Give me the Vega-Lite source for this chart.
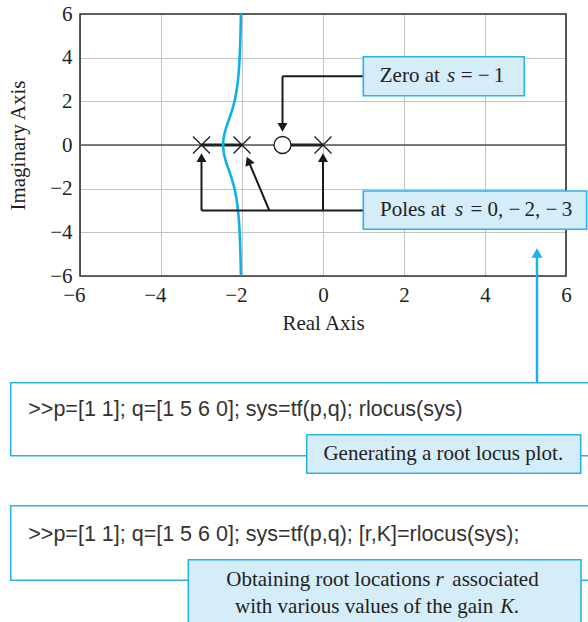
{
  "$schema": "https://vega.github.io/schema/vega-lite/v6.json",
  "width": 486,
  "height": 262,
  "autosize": {"type": "none"},
  "padding": {"left": 80, "top": 14, "right": 22, "bottom": 346},
  "background": "white",
  "config": {"view": {"stroke": null}},
  "datasets": {
    "frame": [{"x": -6, "x2": 6, "y": -6, "y2": 6}],
    "baseline": [{"x": -6, "x2": 6, "y": 0, "y2": 0}],
    "thick": [
      {"x": -3, "x2": -2, "y": 0, "y2": 0},
      {"x": -1, "x2": 0, "y": 0, "y2": 0}
    ],
    "locus": [
      {"i": 0, "x": -2.027, "y": 6},
      {"i": 1, "x": -2.03, "y": 5.68},
      {"i": 2, "x": -2.04, "y": 4.89},
      {"i": 3, "x": -2.05, "y": 4.35},
      {"i": 4, "x": -2.07, "y": 3.625},
      {"i": 5, "x": -2.1, "y": 2.965},
      {"i": 6, "x": -2.15, "y": 2.31},
      {"i": 7, "x": -2.2, "y": 1.887},
      {"i": 8, "x": -2.25, "y": 1.561},
      {"i": 9, "x": -2.3, "y": 1.282},
      {"i": 10, "x": -2.35, "y": 1.017},
      {"i": 11, "x": -2.4, "y": 0.735},
      {"i": 12, "x": -2.43, "y": 0.53},
      {"i": 13, "x": -2.45, "y": 0.346},
      {"i": 14, "x": -2.46, "y": 0.205},
      {"i": 15, "x": -2.4656, "y": 0},
      {"i": 16, "x": -2.46, "y": -0.205},
      {"i": 17, "x": -2.45, "y": -0.346},
      {"i": 18, "x": -2.43, "y": -0.53},
      {"i": 19, "x": -2.4, "y": -0.735},
      {"i": 20, "x": -2.35, "y": -1.017},
      {"i": 21, "x": -2.3, "y": -1.282},
      {"i": 22, "x": -2.25, "y": -1.561},
      {"i": 23, "x": -2.2, "y": -1.887},
      {"i": 24, "x": -2.15, "y": -2.31},
      {"i": 25, "x": -2.1, "y": -2.965},
      {"i": 26, "x": -2.07, "y": -3.625},
      {"i": 27, "x": -2.05, "y": -4.35},
      {"i": 28, "x": -2.04, "y": -4.89},
      {"i": 29, "x": -2.03, "y": -5.68},
      {"i": 30, "x": -2.027, "y": -6}
    ],
    "connectors": [
      {"x": 1.0, "y": 3.15, "x2": -1, "y2": 3.15},
      {"x": -1, "y": 3.15, "x2": -1, "y2": 0.85},
      {"x": 1.0, "y": -3, "x2": -3, "y2": -3},
      {"x": -3, "y": -3, "x2": -3, "y2": -0.6},
      {"x": 0, "y": -3, "x2": 0, "y2": -0.6},
      {"x": -1.326, "y": -3, "x2": -1.83, "y2": -0.78}
    ],
    "blueLink": [{"x": 5.284, "y": -10.887, "x2": 5.284, "y2": -5.1}],
    "whiteBoxes": [
      {"x": -7.711, "x2": 6.9, "y": -10.887, "y2": -14.231},
      {"x": -7.711, "x2": 6.9, "y": -16.521, "y2": -19.938}
    ],
    "lightBoxes": [
      {"x": 0.995, "x2": 4.97, "y": 4.044, "y2": 2.258},
      {"x": 0.995, "x2": 6.511, "y": -2.107, "y2": -3.861},
      {"x": -0.402, "x2": 6.363, "y": -13.269, "y2": -15.037},
      {"x": -3.326, "x2": 6.37, "y": -18.994, "y2": -22.67}
    ],
    "headsUp": [{"x": -3, "y": -0.578}, {"x": 0, "y": -0.578}],
    "headsDown": [{"x": -1, "y": 0.81}],
    "headsDiag": [{"x": -1.842, "y": -0.719}],
    "headsBlue": [{"x": 5.284, "y": -4.95}],
    "poles": [{"x": -3, "y": 0}, {"x": -2, "y": 0}, {"x": 0, "y": 0}],
    "zeros": [{"x": -1, "y": 0}],
    "roman": [
      {"x": 2.143, "y": 3.15, "t": "Zero at"},
      {"x": 3.938, "y": 3.15, "t": "= −\u20091"},
      {"x": 2.22, "y": -2.986, "t": "Poles at"},
      {"x": 4.896, "y": -2.986, "t": "= 0, −\u20092, −\u20093"},
      {"x": 2.97, "y": -14.17, "t": "Generating a root locus plot."},
      {"x": 0.131, "y": -19.924, "t": "Obtaining root locations"},
      {"x": 4.259, "y": -19.924, "t": "associated"},
      {"x": 1.017, "y": -21.147, "t": "with various values of the gain"}
    ],
    "italic": [
      {"x": 3.165, "y": 3.15, "t": "s"},
      {"x": 3.363, "y": -2.986, "t": "s"},
      {"x": 2.877, "y": -19.924, "t": "r"},
      {"x": 4.617, "y": -21.147, "t": "K."}
    ],
    "code": [
      {"x": -7.277, "y": -12.137, "t": ">>p=[1 1]; q=[1 5 6 0]; sys=tf(p,q); rlocus(sys)"},
      {"x": -7.277, "y": -17.863, "t": ">>p=[1 1]; q=[1 5 6 0]; sys=tf(p,q); [r,K]=rlocus(sys);"}
    ]
  },
  "encoding": {
    "x": {
      "field": "x",
      "type": "quantitative",
      "scale": {"domain": [-6, 6], "nice": false, "zero": false},
      "axis": {
        "values": [-6, -4, -2, 0, 2, 4, 6],
        "title": "Real Axis",
        "grid": true,
        "gridColor": "#c4c4c4",
        "gridWidth": 1,
        "domain": false,
        "ticks": false,
        "tickSize": 0,
        "labelFont": "Liberation Serif",
        "labelFontSize": 21,
        "labelColor": "#231f20",
        "labelPadding": 8,
        "labelFlush": false,
        "labelOverlap": false,
        "labelAlign": {"condition": {"test": "datum.value < 0", "value": "right"}, "value": "center"},
        "labelOffset": {"condition": {"test": "datum.value < 0", "value": 5}, "value": 0},
        "titleFont": "Liberation Serif",
        "titleFontSize": 21,
        "titleFontWeight": "normal",
        "titleColor": "#231f20",
        "titlePadding": 7
      }
    },
    "y": {
      "field": "y",
      "type": "quantitative",
      "scale": {"domain": [-6, 6], "nice": false, "zero": false},
      "axis": {
        "values": [-6, -4, -2, 0, 2, 4, 6],
        "title": "Imaginary Axis",
        "grid": true,
        "gridColor": "#c4c4c4",
        "gridWidth": 1,
        "domain": false,
        "ticks": false,
        "tickSize": 0,
        "labelFont": "Liberation Serif",
        "labelFontSize": 21,
        "labelColor": "#231f20",
        "labelPadding": 8,
        "labelFlush": false,
        "labelOverlap": false,
        "titleFont": "Liberation Serif",
        "titleFontSize": 21,
        "titleFontWeight": "normal",
        "titleColor": "#231f20",
        "titlePadding": 21
      }
    }
  },
  "layer": [
    {
      "data": {"name": "frame"},
      "mark": {"type": "rect", "fillOpacity": 0, "stroke": "#333333", "strokeWidth": 1.6},
      "encoding": {"x2": {"field": "x2"}, "y2": {"field": "y2"}}
    },
    {
      "data": {"name": "baseline"},
      "mark": {"type": "rule", "color": "#555555", "strokeWidth": 1.6},
      "encoding": {"x2": {"field": "x2"}, "y2": {"field": "y2"}}
    },
    {
      "data": {"name": "thick"},
      "mark": {"type": "rule", "color": "#222222", "strokeWidth": 3},
      "encoding": {"x2": {"field": "x2"}, "y2": {"field": "y2"}}
    },
    {
      "data": {"name": "locus"},
      "mark": {"type": "line", "color": "#0db0ec", "strokeWidth": 2.6, "interpolate": "catmull-rom"},
      "encoding": {"order": {"field": "i", "type": "quantitative"}}
    },
    {
      "data": {"name": "connectors"},
      "mark": {"type": "rule", "color": "#1a1a1a", "strokeWidth": 2},
      "encoding": {"x2": {"field": "x2"}, "y2": {"field": "y2"}}
    },
    {
      "data": {"name": "blueLink"},
      "mark": {"type": "rule", "color": "#1cb0ea", "strokeWidth": 2.5},
      "encoding": {"x2": {"field": "x2"}, "y2": {"field": "y2"}}
    },
    {
      "data": {"name": "whiteBoxes"},
      "mark": {"type": "rect", "fill": "white", "stroke": "#29b3e8", "strokeWidth": 1.6},
      "encoding": {"x2": {"field": "x2"}, "y2": {"field": "y2"}}
    },
    {
      "data": {"name": "lightBoxes"},
      "mark": {"type": "rect", "fill": "#d5ecf9", "stroke": "#29b3e8", "strokeWidth": 1.6},
      "encoding": {"x2": {"field": "x2"}, "y2": {"field": "y2"}}
    },
    {
      "data": {"name": "headsUp"},
      "mark": {"type": "point", "shape": "triangle-up", "size": 100, "filled": true, "color": "#1a1a1a", "opacity": 1}
    },
    {
      "data": {"name": "headsDown"},
      "mark": {"type": "point", "shape": "triangle-down", "size": 100, "filled": true, "color": "#1a1a1a", "opacity": 1}
    },
    {
      "data": {"name": "headsDiag"},
      "mark": {"type": "point", "shape": "triangle-up", "size": 100, "angle": -23, "filled": true, "color": "#1a1a1a", "opacity": 1}
    },
    {
      "data": {"name": "headsBlue"},
      "mark": {"type": "point", "shape": "triangle-up", "size": 121, "filled": true, "color": "#1cb0ea", "opacity": 1}
    },
    {
      "data": {"name": "poles"},
      "mark": {"type": "point", "shape": "M-1,-1L1,1M-1,1L1,-1", "size": 289, "filled": false, "stroke": "#1a1a1a", "strokeWidth": 1.3, "opacity": 1}
    },
    {
      "data": {"name": "zeros"},
      "mark": {"type": "point", "shape": "circle", "size": 289, "filled": true, "fill": "white", "stroke": "#1a1a1a", "strokeWidth": 1.3, "opacity": 1}
    },
    {
      "data": {"name": "roman"},
      "mark": {"type": "text", "font": "Liberation Serif", "fontSize": 21, "align": "center", "baseline": "middle", "color": "#231f20"},
      "encoding": {"text": {"field": "t"}}
    },
    {
      "data": {"name": "italic"},
      "mark": {"type": "text", "font": "Liberation Serif", "fontSize": 21, "fontStyle": "italic", "align": "center", "baseline": "middle", "color": "#231f20"},
      "encoding": {"text": {"field": "t"}}
    },
    {
      "data": {"name": "code"},
      "mark": {"type": "text", "font": "Liberation Sans", "fontSize": 21.5, "align": "left", "baseline": "middle", "color": "#333333"},
      "encoding": {"text": {"field": "t"}}
    }
  ]
}
